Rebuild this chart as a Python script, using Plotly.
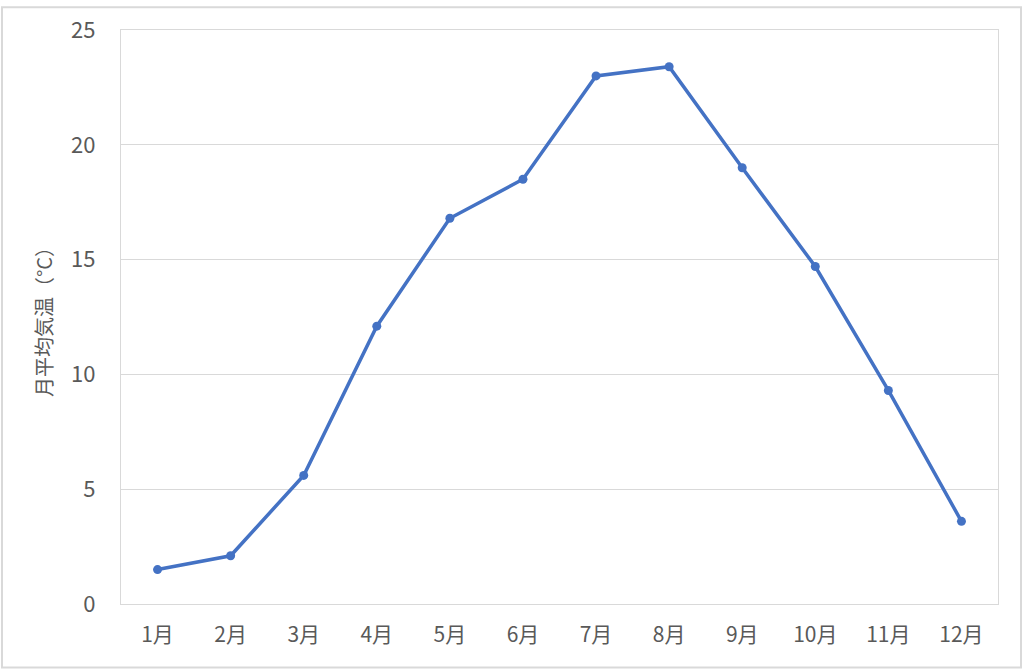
import plotly.graph_objects as go

months = ["1月", "2月", "3月", "4月", "5月", "6月", "7月", "8月", "9月", "10月", "11月", "12月"]
temps = [1.5, 2.1, 5.6, 12.1, 16.8, 18.5, 23.0, 23.4, 19.0, 14.7, 9.3, 3.6]
y_ticks = [0, 5, 10, 15, 20, 25]

font_family = "Noto Sans CJK JP, Noto Sans, sans-serif"
grey_text = "#595959"
grid = "#d9d9d9"

fig = go.Figure()
fig.add_trace(go.Scatter(
    x=months, y=temps, mode="lines+markers",
    line=dict(color="#4472C4", width=3.5),
    marker=dict(color="#4472C4", size=9),
    showlegend=False,
))

fig.update_layout(
    width=1024, height=670,
    margin=dict(l=121, r=26, t=21, b=66),
    paper_bgcolor="white", plot_bgcolor="white",
    font=dict(family=font_family, color=grey_text, size=20),
    xaxis=dict(
        type="category", range=[-0.5, 11.5],
        showline=True, linecolor=grid, linewidth=1.3, mirror=True,
        showgrid=False, ticks="", ticklabelstandoff=12,
        tickfont=dict(size=21, color=grey_text),
    ),
    yaxis=dict(
        range=[0, 25], tickvals=y_ticks,
        showline=True, linecolor=grid, linewidth=1.3, mirror=True,
        showgrid=True, gridcolor=grid, gridwidth=1.3,
        zeroline=False, ticks="", ticklabelstandoff=20,
        tickfont=dict(size=22, color=grey_text),
        title=dict(text="月平均気温（°C）", font=dict(size=20, color=grey_text), standoff=13),
    ),
    shapes=[dict(
        type="rect", xref="paper", yref="paper",
        x0=(2 - 121) / 877, x1=(1021 - 121) / 877,
        y0=(604 - 668) / 579, y1=(604 - 2) / 579,
        line=dict(color="#d9d9d9", width=2), fillcolor="rgba(0,0,0,0)", layer="below",
    )],
)

fig.write_html(
    "out.html",
    config={"displayModeBar": False},
    post_script="document.body.style.margin='0';document.body.style.overflow='hidden';",
)
